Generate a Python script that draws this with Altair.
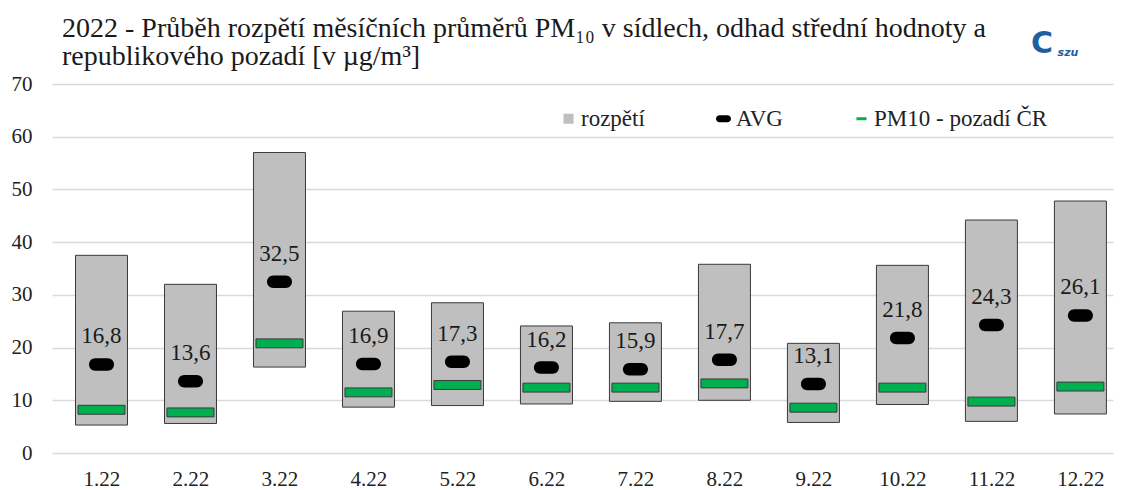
import altair as alt
import pandas as pd

months = ["1.22", "2.22", "3.22", "4.22", "5.22", "6.22", "7.22", "8.22", "9.22", "10.22", "11.22", "12.22"]
month_idx = [1, 2, 3, 4, 5, 6, 7, 8, 9, 10, 11, 12]
range_min = [5.3, 5.6, 16.3, 8.7, 9.0, 9.3, 9.8, 10.0, 5.8, 9.2, 6.0, 7.4]
range_max = [37.5, 32.0, 57.0, 26.9, 28.5, 24.1, 24.7, 35.8, 20.8, 35.6, 44.2, 47.8]
avg = [16.8, 13.6, 32.5, 16.9, 17.3, 16.2, 15.9, 17.7, 13.1, 21.8, 24.3, 26.1]
background = [8.2, 7.7, 20.8, 11.5, 12.9, 12.4, 12.4, 13.2, 8.6, 12.4, 9.75, 12.6]
series_names = ["rozpětí", "AVG", "PM10 - pozadí ČR"]
y_ticks = [0, 10, 20, 30, 40, 50, 60, 70]

title_lines = [
    "2022 - Průběh rozpětí měsíčních průměrů PM₁₀ v sídlech, odhad střední hodnoty a",
    "republikového pozadí [v µg/m³]",
]

df = pd.DataFrame({
    "idx": month_idx,
    "month": months,
    "lo": range_min,
    "hi": range_max,
    "avg": avg,
    "bg": background,
})
df["avg_label"] = [f"{v:.1f}".replace(".", ",") for v in avg]

FONT = "Liberation Serif"
label_expr = "[" + ",".join(f"'{m}'" for m in months) + "][datum.value - 1]"

x_enc = alt.X(
    "idx:Q",
    scale=alt.Scale(domain=[0.5, 12.31], nice=False, zero=False),
    axis=alt.Axis(
        values=month_idx, labelExpr=label_expr, grid=False, domain=False, ticks=False,
        labelPadding=15, labelFontSize=21, labelFont=FONT, labelColor="#222222", title=None,
    ),
)
y_scale = alt.Scale(domain=[0, 70], nice=False)
y_axis = alt.Axis(
    values=y_ticks, grid=True, gridColor="#D9D9D9", gridWidth=1.3, domain=False, ticks=False,
    labelPadding=20, labelFontSize=21, labelFont=FONT, labelColor="#222222", title=None,
)

base = alt.Chart(df)

bars = base.mark_bar(size=52, fill="#BFBFBF", stroke="#3a3a3a", strokeWidth=1).encode(
    x=x_enc,
    y=alt.Y("lo:Q", scale=y_scale, axis=y_axis),
    y2="hi:Q",
)

dash_shape = "M-1,-0.19H1V0.19H-1Z"
pill_shape = "M-0.5,-0.5H0.5A0.5,0.5,0,0,1,0.5,0.5H-0.5A0.5,0.5,0,0,1,-0.5,-0.5Z"

green = base.mark_point(
    shape=dash_shape, size=47 * 47, filled=True, fill="#00B050", stroke="#3a3a3a",
    strokeWidth=1, opacity=1,
).encode(x="idx:Q", y=alt.Y("bg:Q"))

avg_marks = base.mark_point(
    shape=pill_shape, size=25 * 25, filled=True, color="#000000", opacity=1,
).encode(x="idx:Q", y=alt.Y("avg:Q"))

labels = base.mark_text(
    dy=-21, baseline="alphabetic", fontSize=23, font=FONT, color="#1a1a1a",
).encode(x="idx:Q", y=alt.Y("avg:Q"), text="avg_label:N")

leg_sq = "M-0.67,-0.67H0.67V0.67H-0.67Z"
leg_pill = "M-0.53,-0.47H0.53A0.47,0.47,0,0,1,0.53,0.47H-0.53A0.47,0.47,0,0,1,-0.53,-0.47Z"
leg_dash = "M-0.67,-0.2H0.67V0.2H-0.67Z"

legend_params = dict(
    orient="none", legendX=505, legendY=23, direction="horizontal", title=None,
    labelFont=FONT, labelFontSize=23, labelColor="#222222", symbolSize=225,
    symbolOpacity=1, symbolStrokeColor="#3a3a3a", symbolStrokeWidth=1,
    columnPadding=67, labelOffset=1, labelLimit=400,
)
legend_df = pd.DataFrame({"series": series_names})
legend_layer = alt.Chart(legend_df).mark_point(opacity=0, filled=True).encode(
    x=alt.value(0),
    y=alt.value(0),
    color=alt.Color(
        "series:N",
        scale=alt.Scale(domain=series_names, range=["#BFBFBF", "#000000", "#00B050"]),
        legend=alt.Legend(**legend_params),
    ),
    shape=alt.Shape(
        "series:N",
        scale=alt.Scale(domain=series_names, range=[leg_sq, leg_pill, leg_dash]),
        legend=alt.Legend(**legend_params),
    ),
)

logo_df = pd.DataFrame({"c": ["C"], "s": ["szu"]})
logo_c = alt.Chart(logo_df).mark_text(
    font="DejaVu Sans", fontWeight="bold", fontSize=30, color="#1F5FA0", baseline="middle",
).encode(x=alt.value(990), y=alt.value(-40), text="c:N")
logo_s = alt.Chart(logo_df).mark_text(
    font="DejaVu Sans", fontWeight="bold", fontStyle="italic", fontSize=11, color="#1F5FA0",
    baseline="middle",
).encode(x=alt.value(1016), y=alt.value(-31), text="s:N")

chart = alt.layer(bars, green, avg_marks, labels, legend_layer, logo_c, logo_s).properties(
    width=1061,
    height=369,
    autosize=alt.AutoSizeParams(type="none"),
    padding={"left": 44, "top": 76, "right": 2, "bottom": 36},
    title=alt.TitleParams(
        text=title_lines, anchor="start", frame="group", font=FONT, fontSize=28,
        fontWeight="normal", color="#1a1a1a", lineHeight=28, dx=10, dy=60, offset=18,
    ),
).configure_view(stroke=None).configure_legend(labelFont=FONT, labelFontSize=23, labelLimit=400)

chart.save("out.html", embed_options={"renderer": "svg", "actions": False})
